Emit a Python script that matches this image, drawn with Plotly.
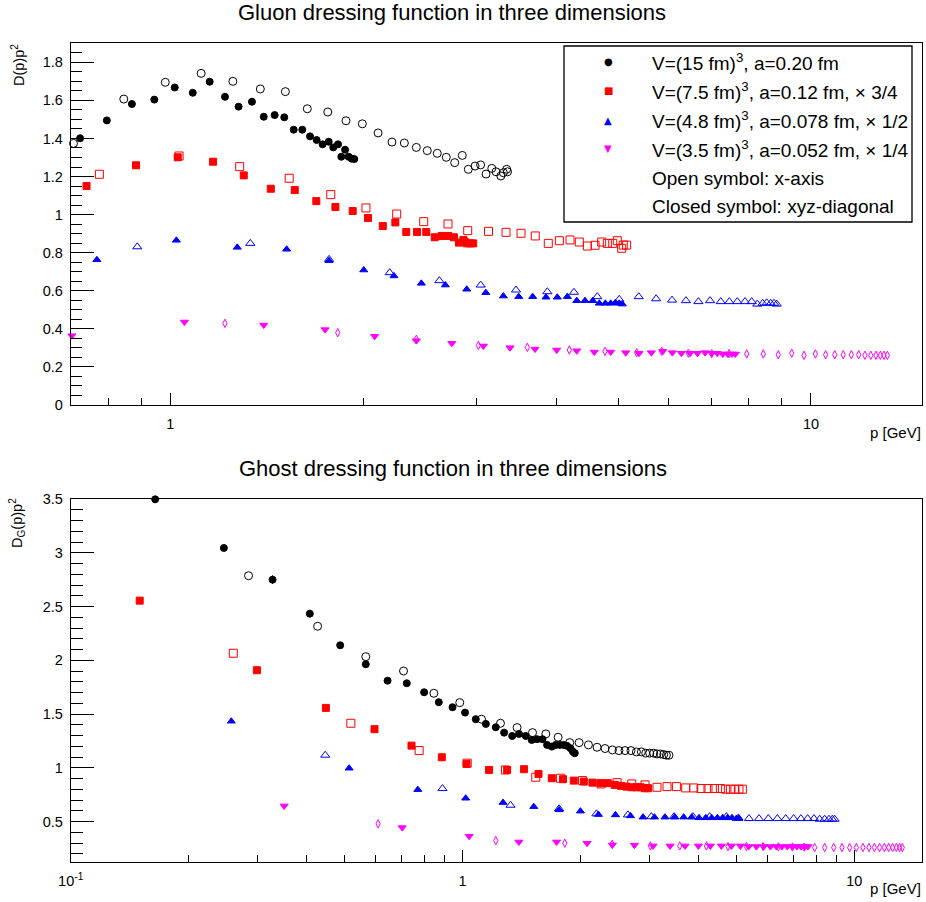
import plotly.graph_objects as go

W, H = 926, 902

# ---------------- DATA (values as displayed, already multiplied by the legend factors) ----------------
# Gluon dressing function D(p)p^2, top panel
gl_15_closed_p = [0.723,0.796,0.871,0.944,1.016,1.084,1.152,1.217,1.278,1.341,1.399,1.455,1.506,1.558,1.607,1.652,1.692,1.729,1.767,1.796,1.827,1.849,1.874,1.898,1.919,1.937]
gl_15_closed_v = [1.401,1.495,1.581,1.604,1.668,1.640,1.698,1.619,1.567,1.593,1.514,1.523,1.511,1.446,1.446,1.411,1.392,1.369,1.383,1.353,1.369,1.304,1.341,1.304,1.294,1.292]
gl_15_open_p = [0.706,0.846,0.982,1.117,1.252,1.382,1.512,1.636,1.761,1.880,1.994,2.110,2.218,2.319,2.421,2.518,2.610,2.696,2.779,2.856,2.918,2.990,3.050,3.110,3.175,3.224,3.280,3.310,3.350,3.360]
gl_15_open_v = [1.374,1.607,1.695,1.742,1.700,1.660,1.646,1.556,1.539,1.493,1.477,1.429,1.381,1.376,1.353,1.336,1.322,1.301,1.273,1.311,1.238,1.255,1.261,1.213,1.243,1.225,1.203,1.220,1.238,1.225]

gl_75_closed_p = [0.740,0.884,1.027,1.166,1.302,1.435,1.564,1.690,1.810,1.926,2.035,2.146,2.245,2.335,2.427,2.509,2.586,2.652,2.716,2.772,2.822,2.867,2.880,2.902,2.937,2.970]
gl_75_closed_v = [1.150,1.259,1.301,1.278,1.206,1.136,1.129,1.071,1.040,1.019,0.982,0.940,0.959,0.909,0.909,0.909,0.881,0.888,0.888,0.881,0.853,0.867,0.858,0.849,0.849,0.849]
gl_75_open_p = [0.775,1.032,1.283,1.533,1.780,2.020,2.256,2.486,2.713,2.912,3.138,3.342,3.527,3.712,3.890,4.048,4.206,4.349,4.477,4.602,4.713,4.810,4.904,4.985,5.064,5.093,5.155]
gl_75_open_v = [1.212,1.308,1.252,1.191,1.105,1.035,1.003,0.963,0.951,0.916,0.912,0.907,0.902,0.888,0.849,0.863,0.867,0.856,0.835,0.839,0.856,0.849,0.849,0.863,0.823,0.840,0.840]

gl_48_closed_p = [0.768,1.022,1.272,1.519,1.769,2.004,2.234,2.465,2.687,2.902,3.108,3.310,3.498,3.678,3.858,4.018,4.166,4.309,4.439,4.564,4.673,4.775,4.868,4.950,5.020,5.075]
gl_48_closed_v = [0.763,0.865,0.828,0.818,0.758,0.709,0.678,0.639,0.630,0.608,0.590,0.572,0.569,0.569,0.566,0.566,0.569,0.548,0.548,0.548,0.534,0.534,0.534,0.537,0.534,0.530]
gl_48_open_p = [0.888,1.333,1.769,2.200,2.630,3.051,3.464,3.877,4.266,4.639,5.020,5.384,5.731,6.069,6.381,6.672,6.957,7.230,7.457,7.674,7.889,8.081,8.245,8.405,8.528,8.652,8.757,8.841]
gl_48_open_v = [0.831,0.849,0.765,0.695,0.653,0.630,0.604,0.595,0.592,0.569,0.555,0.569,0.558,0.551,0.548,0.543,0.548,0.543,0.543,0.543,0.543,0.543,0.530,0.534,0.537,0.534,0.534,0.530]

gl_35_closed_p = [0.702,1.052,1.399,1.744,2.084,2.421,2.750,3.081,3.390,3.709,4.009,4.309,4.589,4.868,5.138,5.390,5.634,5.870,6.075,6.276,6.476,6.649,6.834,6.998,7.141,7.281,7.413,7.528,7.619]
gl_35_closed_v = [0.364,0.436,0.420,0.396,0.361,0.338,0.324,0.310,0.301,0.294,0.289,0.285,0.278,0.278,0.275,0.272,0.275,0.282,0.275,0.272,0.272,0.272,0.275,0.272,0.272,0.268,0.268,0.268,0.268]
gl_35_open_p = [1.217,1.825,2.421,3.026,3.608,4.196,4.770,5.345,5.848,6.436,7.000,7.450,7.938,8.425,8.892,9.330,9.752,10.16,10.54,10.89,11.23,11.56,11.87,12.14,12.40,12.63,12.83,13.00,13.16]
gl_35_open_v = [0.429,0.380,0.345,0.313,0.303,0.289,0.282,0.275,0.282,0.272,0.270,0.270,0.268,0.268,0.264,0.272,0.261,0.268,0.264,0.264,0.264,0.264,0.264,0.261,0.261,0.261,0.261,0.261,0.261]

# Ghost dressing function D_G(p)p^2, bottom panel
gh_15_closed_p = [0.1643,0.246,0.3275,0.4077,0.4873,0.5665,0.6437,0.7209,0.798,0.870,0.943,1.015,1.081,1.147,1.216,1.277,1.339,1.394,1.450,1.502,1.550,1.600,1.644,1.690,1.730,1.771,1.813,1.848,1.886,1.914,1.934]
gh_15_closed_v = [3.497,3.045,2.750,2.434,2.140,1.964,1.811,1.787,1.703,1.611,1.564,1.514,1.453,1.409,1.378,1.328,1.297,1.316,1.297,1.260,1.267,1.267,1.214,1.198,1.214,1.214,1.214,1.205,1.183,1.151,1.137]
gh_15_closed_e = [0.0,0.03,0.04,0.01,0.01,0.01,0.0,0.0,0.0,0.0,0.0,0.0,0.0,0.0,0.0,0.0,0.0,0.0,0.0,0.0,0.0,0.0,0.0,0.0,0.0,0.0,0.0,0.0,0.0,0.0,0.0]
gh_15_open_p = [0.2844,0.4267,0.5665,0.7071,0.845,0.984,1.118,1.250,1.378,1.509,1.632,1.754,1.878,1.984,2.096,2.205,2.311,2.413,2.508,2.599,2.692,2.779,2.861,2.935,3.004,3.076,3.136,3.200,3.262,3.314,3.365]
gh_15_open_v = [2.787,2.317,2.034,1.901,1.694,1.607,1.453,1.415,1.375,1.328,1.316,1.285,1.235,1.235,1.214,1.192,1.180,1.167,1.161,1.161,1.161,1.149,1.149,1.137,1.137,1.137,1.130,1.130,1.124,1.118,1.118]

gh_75_closed_p = [0.150,0.2987,0.448,0.5963,0.741,0.8856,1.024,1.169,1.300,1.436,1.563,1.690,1.805,1.923,2.040,2.146,2.249,2.348,2.446,2.539,2.621,2.704,2.779,2.850,2.918,2.976]
gh_75_closed_v = [2.555,1.908,1.558,1.360,1.207,1.099,1.037,0.981,0.981,0.988,0.944,0.904,0.895,0.882,0.873,0.863,0.858,0.858,0.842,0.833,0.826,0.820,0.820,0.820,0.811,0.811]
gh_75_open_p = [0.260,0.5188,0.775,1.028,1.287,1.538,1.778,2.024,2.258,2.480,2.704,2.923,3.136,3.326,3.515,3.712,3.892,4.062,4.232,4.395,4.551,4.695,4.827,4.959,5.077,5.180]
gh_75_open_v = [2.066,1.415,1.161,1.044,0.981,0.913,0.904,0.882,0.851,0.863,0.851,0.842,0.820,0.826,0.826,0.814,0.814,0.808,0.808,0.808,0.808,0.802,0.802,0.802,0.802,0.802]

gh_48_closed_p = [0.257,0.5137,0.769,1.019,1.269,1.520,1.764,2.000,2.223,2.457,2.684,2.889,3.090,3.287,3.480,3.669,3.846,4.015,4.176,4.325,4.473,4.614,4.751,4.874,5.000,5.077]
gh_48_closed_v = [1.434,0.997,0.798,0.718,0.678,0.640,0.610,0.598,0.566,0.563,0.554,0.542,0.542,0.542,0.542,0.542,0.542,0.536,0.536,0.536,0.536,0.536,0.536,0.536,0.529,0.529]
gh_48_open_p = [0.4463,0.889,1.326,1.764,2.197,2.644,3.034,3.467,3.875,4.274,4.716,5.060,5.385,5.711,6.034,6.363,6.681,7.000,7.308,7.600,7.889,8.157,8.400,8.614,8.787,8.906]
gh_48_open_v = [1.118,0.808,0.653,0.620,0.573,0.563,0.547,0.547,0.547,0.547,0.547,0.535,0.529,0.529,0.529,0.529,0.529,0.529,0.529,0.529,0.529,0.523,0.523,0.523,0.523,0.523]

gh_35_closed_p = [0.3507,0.7015,1.040,1.393,1.738,2.079,2.413,2.747,3.064,3.386,3.698,4.000,4.292,4.578,4.856,5.120,5.375,5.623,5.870,6.107,6.324,6.535,6.745,6.947,7.138,7.308,7.468,7.615]
gh_35_closed_v = [0.647,0.445,0.365,0.312,0.312,0.300,0.284,0.282,0.275,0.275,0.275,0.275,0.275,0.275,0.275,0.275,0.269,0.269,0.269,0.269,0.269,0.269,0.269,0.269,0.269,0.269,0.269,0.269]
gh_35_open_p = [0.609,1.216,1.824,2.410,3.017,3.584,4.193,4.760,5.303,5.850,6.400,6.950,7.450,7.922,8.400,8.859,9.300,9.730,10.12,10.52,10.90,11.25,11.60,11.93,12.24,12.52,12.80,13.05,13.26]
gh_35_open_v = [0.480,0.324,0.300,0.290,0.275,0.275,0.275,0.269,0.269,0.269,0.266,0.265,0.263,0.260,0.260,0.260,0.260,0.260,0.260,0.260,0.260,0.260,0.260,0.260,0.260,0.260,0.260,0.260,0.260]

legend_labels = [
    "V=(15 fm)<sup>3</sup>, a=0.20 fm",
    "V=(7.5 fm)<sup>3</sup>, a=0.12 fm, \u00d7 3/4",
    "V=(4.8 fm)<sup>3</sup>, a=0.078 fm, \u00d7 1/2",
    "V=(3.5 fm)<sup>3</sup>, a=0.052 fm, \u00d7 1/4",
    "Open symbol: x-axis",
    "Closed symbol: xyz-diagonal",
]
legend_glyphs = ["\u25cf", "\u25a0", "\u25b2", "\u25bc", "", ""]

# ---------------- STYLE ----------------
BLACK, RED, BLUE, MAG = "#000000", "#ff0000", "#0000ff", "#ff00ff"
FONT = "Liberation Sans, Arial, Helvetica, sans-serif"

def px(x):
    return x / W

def py(y):
    return 1 - y / H

fig = go.Figure()

def add(p, v, xa, ya, color, symbol, size, err=None):
    kw = {}
    if err is not None:
        kw["error_y"] = dict(type="data", array=err, visible=True, color=color, thickness=1, width=0)
    fig.add_trace(go.Scatter(
        x=p, y=v, mode="markers", xaxis=xa, yaxis=ya, showlegend=False, cliponaxis=False,
        marker=dict(color=color, symbol=symbol, size=size, line=dict(width=1, color=color)),
        **kw))

# top panel
add(gl_35_open_p, gl_35_open_v, "x", "y", MAG, "diamond-tall-open", 6)
add(gl_35_closed_p, gl_35_closed_v, "x", "y", MAG, "triangle-down", 7)
add(gl_48_open_p, gl_48_open_v, "x", "y", BLUE, "triangle-up-open", 8)
add(gl_48_closed_p, gl_48_closed_v, "x", "y", BLUE, "triangle-up", 7)
add(gl_75_open_p, gl_75_open_v, "x", "y", RED, "square-open", 8)
add(gl_75_closed_p, gl_75_closed_v, "x", "y", RED, "square", 7)
add(gl_15_open_p, gl_15_open_v, "x", "y", BLACK, "circle-open", 8)
add(gl_15_closed_p, gl_15_closed_v, "x", "y", BLACK, "circle", 7)

# bottom panel
add(gh_35_open_p, gh_35_open_v, "x2", "y2", MAG, "diamond-tall-open", 6)
add(gh_35_closed_p, gh_35_closed_v, "x2", "y2", MAG, "triangle-down", 7)
add(gh_48_open_p, gh_48_open_v, "x2", "y2", BLUE, "triangle-up-open", 8)
add(gh_48_closed_p, gh_48_closed_v, "x2", "y2", BLUE, "triangle-up", 7)
add(gh_75_open_p, gh_75_open_v, "x2", "y2", RED, "square-open", 8)
add(gh_75_closed_p, gh_75_closed_v, "x2", "y2", RED, "square", 7)
add(gh_15_open_p, gh_15_open_v, "x2", "y2", BLACK, "circle-open", 8)
add(gh_15_closed_p, gh_15_closed_v, "x2", "y2", BLACK, "circle", 7, err=gh_15_closed_e)

xdom = [px(70.7), px(921.7)]
common_axis = dict(showgrid=False, zeroline=False, showline=True, linecolor="black", linewidth=1,
                   mirror=True, ticks="inside", tickcolor="black", tickwidth=1, automargin=False,
                   tickfont=dict(family=FONT, size=14.5, color="black"))

fig.update_layout(
    width=W, height=H, margin=dict(l=0, r=0, t=0, b=0, pad=0, autoexpand=False),
    paper_bgcolor="white", plot_bgcolor="white",
    font=dict(family=FONT, color="black"),
    showlegend=False,
    xaxis=dict(common_axis, domain=xdom, anchor="y", type="log",
               range=[-0.1555, 1.1728], tickmode="array", tickvals=[1, 10], ticktext=["1", "10"],
               ticklen=12, ticklabelstandoff=6,
               minor=dict(tickmode="array", tickvals=[0.8, 0.9, 2, 3, 4, 5, 6, 7, 8, 9],
                          ticks="inside", ticklen=7, tickcolor="black", showgrid=False)),
    yaxis=dict(common_axis, domain=[py(405), py(42.7)], anchor="x",
               range=[0, 1.903], tick0=0, dtick=0.2, ticklen=23, ticklabelstandoff=4,
               minor=dict(dtick=0.05, ticks="inside", ticklen=11, tickcolor="black", showgrid=False)),
    xaxis2=dict(common_axis, domain=xdom, anchor="y2", type="log",
                range=[-1, 1.172], tickmode="array", tickvals=[0.1, 1, 10],
                ticktext=["10<sup>-1</sup>", "1", "10"],
                ticklen=12, ticklabelstandoff=6,
                minor=dict(tickmode="array", tickvals=[0.2, 0.3, 0.4, 0.5, 0.6, 0.7, 0.8, 0.9, 2, 3, 4, 5, 6, 7, 8, 9],
                           ticks="inside", ticklen=7, tickcolor="black", showgrid=False)),
    yaxis2=dict(common_axis, domain=[py(861.7), py(499)], anchor="x2",
                range=[0.128, 3.5], tick0=0, dtick=0.5, ticklen=23, ticklabelstandoff=4,
                minor=dict(dtick=0.1, ticks="inside", ticklen=12, tickcolor="black", showgrid=False)),
)

ann = []
# titles
ann.append(dict(text="Gluon dressing function in three dimensions", x=px(452), y=py(12),
                xanchor="center", yanchor="middle", font=dict(size=22)))
ann.append(dict(text="Ghost dressing function in three dimensions", x=px(453), y=py(469),
                xanchor="center", yanchor="middle", font=dict(size=22)))
# axis titles
ann.append(dict(text="D(p)p<sup>2</sup>", x=px(18), y=py(42), textangle=-90,
                xanchor="center", yanchor="top", font=dict(size=14.5)))
ann.append(dict(text="D<sub>G</sub>(p)p<sup>2</sup>", x=px(17), y=py(496), textangle=-90,
                xanchor="center", yanchor="top", font=dict(size=14.5)))
ann.append(dict(text="p [GeV]", x=px(922.5), y=py(432), xanchor="right", yanchor="middle", font=dict(size=15)))
ann.append(dict(text="p [GeV]", x=px(922.5), y=py(888), xanchor="right", yanchor="middle", font=dict(size=15)))

# legend
row_y = [61.7, 90.7, 120.0, 149.0, 178.3, 206.7]
glyph_colors = [BLACK, RED, BLUE, MAG, BLACK, BLACK]
for i, (lab, g) in enumerate(zip(legend_labels, legend_glyphs)):
    ann.append(dict(text=lab, x=px(650), y=py(row_y[i]), xanchor="left", yanchor="middle",
                    font=dict(size=19)))
    if g:
        ann.append(dict(text=g, x=px(608), y=py(row_y[i]), xanchor="center", yanchor="middle",
                        font=dict(size=10, color=glyph_colors[i], family="DejaVu Sans")))

for a in ann:
    a.setdefault("xref", "paper")
    a.setdefault("yref", "paper")
    a["showarrow"] = False
    a["font"].setdefault("family", FONT)
    a["font"].setdefault("color", "black")
fig.update_layout(annotations=ann)

fig.add_shape(type="rect", xref="paper", yref="paper",
              x0=px(564), x1=px(912), y0=py(222), y1=py(46),
              line=dict(color="black", width=1.3), fillcolor="white", layer="below")

fig.write_html("out.html")
